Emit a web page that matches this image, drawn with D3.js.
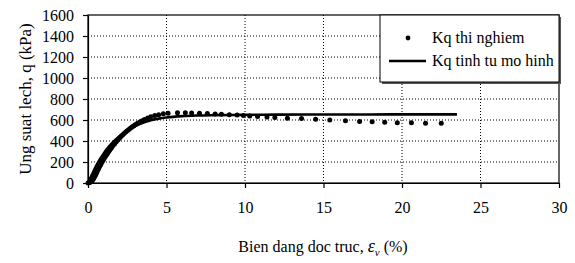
<!DOCTYPE html>
<html lang="vi">
<head>
    <meta charset="utf-8">
    <title>Ung suat lech - bien dang</title>
    <script type="text/javascript" src="https://d3js.org/d3.v7.min.js"></script>
    <style type="text/css">
        body{
            margin: 0px;
            background: #fff;
        }
        .axis path,
        .axis line {
            fill: none;
            stroke: #000;
            stroke-width: 1.2px;
        }
        .grid line {
            stroke: #000;
            stroke-width: 1px;
            stroke-dasharray: 1,2;
        }
    </style>
</head>
<body>
<div id="viz"></div>

<script type="text/javascript">
    // ket qua thi nghiem
    var testStrain = [0, 0.05, 0.1, 0.15, 0.2, 0.25, 0.3, 0.35, 0.4, 0.45, 0.5, 0.55, 0.6, 0.65, 0.7,
        0.75, 0.8, 0.85, 0.9, 0.95, 1.0, 1.05, 1.1, 1.15, 1.2, 1.25, 1.3, 1.35, 1.4, 1.45, 1.5, 1.6,
        1.7, 1.8, 1.9, 2.0, 2.1, 2.2, 2.3, 2.4, 2.5, 2.6, 2.7, 2.8, 2.9, 3.0, 3.15, 3.3, 3.45, 3.6,
        3.8, 4.0, 4.25, 4.5, 4.8, 5.1, 5.7, 6.2, 6.6, 7.1, 7.6, 8.1, 8.5, 9.0, 9.5, 9.9, 10.3, 10.8,
        11.4, 11.9, 12.7, 13.6, 14.5, 15.4, 16.4, 17.3, 18.1, 18.9, 19.7, 20.6, 21.5, 22.5];
    var testStress = [0, 2, 5, 9, 14, 21, 30, 41, 54, 68, 84, 100, 116, 131, 146,
        161, 175, 189, 202, 215, 228, 240, 252, 264, 275, 286, 297, 308, 318, 328, 338, 357,
        375, 393, 410, 426, 442, 457, 471, 485, 498, 510, 522, 533, 544, 554, 568, 581, 593, 604,
        618, 630, 642, 651, 660, 665, 668, 668, 666, 664, 662, 658, 655, 651, 647, 643, 639, 634,
        629, 624, 617, 614, 607, 600, 593, 585, 583, 578, 575, 573, 570, 568];

    // ket qua tinh tu mo hinh
    var modelStrain = [0, 0.25, 0.5, 0.75, 1, 1.25, 1.5, 1.75, 2, 2.5, 3, 3.5, 4, 4.5, 5, 6, 7, 8,
        10, 12, 15, 18, 21, 23.5];
    var modelStress = [0, 80, 158, 225, 282, 332, 375, 412, 445, 498, 540, 573, 597, 613, 624, 637,
        643, 646, 649, 651, 652, 653, 654, 654];

    var xTicks = [0, 5, 10, 15, 20, 25, 30];
    var yTicks = [0, 200, 400, 600, 800, 1000, 1200, 1400, 1600];
    var seriesNames = ["Kq thi nghiem", "Kq tinh tu mo hinh"];

    var serif = "'Liberation Serif', 'Times New Roman', Tinos, serif";

    var margin = {top: 15, right: 16, bottom: 80, left: 88};
    var width = 575 - margin.left - margin.right;
    var height = 263 - margin.top - margin.bottom;

    var x = d3.scaleLinear().domain([0, 30]).range([0, width]);
    var y = d3.scaleLinear().domain([0, 1600]).range([height, 0]);

    var svg = d3.select("#viz").append("svg")
        .attr("width", 575)
        .attr("height", 263)
        .style("font-family", serif);

    var dataviz = svg.append("g")
        .attr("transform", "translate(" + margin.left + "," + margin.top + ")");

    // luoi
    dataviz.append("g").attr("class", "grid")
        .selectAll("line")
        .data(yTicks.slice(1, -1))
        .enter().append("line")
        .attr("x1", 0).attr("x2", width)
        .attr("y1", function(d) { return y(d); })
        .attr("y2", function(d) { return y(d); });

    dataviz.append("g").attr("class", "grid")
        .selectAll("line")
        .data(xTicks.slice(1, -1))
        .enter().append("line")
        .attr("y1", 0).attr("y2", height)
        .attr("x1", function(d) { return x(d); })
        .attr("x2", function(d) { return x(d); });

    // khung
    dataviz.append("rect")
        .attr("width", width).attr("height", height)
        .attr("fill", "none").attr("stroke", "#000").attr("stroke-width", 1.2);

    dataviz.append("g").attr("class", "axis")
        .attr("transform", "translate(0," + height + ")")
        .call(d3.axisBottom(x).tickValues(xTicks).tickFormat(d3.format("d"))
            .tickSizeInner(5).tickSizeOuter(0).tickPadding(14));

    dataviz.append("g").attr("class", "axis")
        .call(d3.axisLeft(y).tickValues(yTicks).tickFormat(d3.format("d"))
            .tickSizeInner(5).tickSizeOuter(0).tickPadding(9));

    dataviz.selectAll(".axis").attr("font-family", null).attr("font-size", null);
    dataviz.selectAll(".axis text").style("font-size", "16px");

    // duong mo hinh
    var modelData = modelStrain.map(function(d, i) { return [d, modelStress[i]]; });
    dataviz.append("path")
        .datum(modelData)
        .attr("fill", "none")
        .attr("stroke", "#000")
        .attr("stroke-width", 2.6)
        .attr("d", d3.line()
            .x(function(d) { return x(d[0]); })
            .y(function(d) { return y(d[1]); })
            .curve(d3.curveMonotoneX));

    // diem thi nghiem
    dataviz.selectAll(".dot")
        .data(testStrain)
        .enter().append("circle")
        .attr("class", "dot")
        .attr("cx", function(d) { return x(d); })
        .attr("cy", function(d, i) { return y(testStress[i]); })
        .attr("r", 2.5)
        .attr("fill", "#000");

    // chu thich
    var legend = dataviz.append("g").attr("transform", "translate(" + (width - 179) + ",0)");
    legend.append("rect")
        .attr("x", 2).attr("y", 2).attr("width", 179).attr("height", 67)
        .attr("fill", "#555");
    legend.append("rect")
        .attr("width", 179).attr("height", 67)
        .attr("fill", "#fff").attr("stroke", "#000").attr("stroke-width", 1);
    legend.append("circle")
        .attr("cx", 28).attr("cy", 23).attr("r", 2.4).attr("fill", "#000");
    legend.append("line")
        .attr("x1", 9).attr("x2", 46).attr("y1", 46).attr("y2", 46)
        .attr("stroke", "#000").attr("stroke-width", 2.6);
    legend.selectAll(".ltext")
        .data(seriesNames)
        .enter().append("text")
        .attr("x", 52)
        .attr("y", function(d, i) { return 28 + i * 23; })
        .style("font-size", "16px")
        .text(function(d) { return d; });

    // ten truc
    svg.append("text")
        .attr("transform", "translate(31," + (margin.top + height / 2) + ") rotate(-90)")
        .attr("text-anchor", "middle")
        .style("font-size", "17px")
        .text("Ung suat lech, q (kPa)");

    var xt = svg.append("text")
        .attr("x", 323).attr("y", 252)
        .attr("text-anchor", "middle")
        .style("font-size", "16px");
    xt.append("tspan").text("Bien dang doc truc, ");
    xt.append("tspan").style("font-style", "italic").style("font-size", "18px").text("ε");
    xt.append("tspan").attr("dy", 4).style("font-style", "italic").style("font-size", "11px").text("v");
    xt.append("tspan").attr("dy", -4).text(" (%)");

    svg.selectAll("text").style("font-family", serif).style("fill", "#000");
</script>
</body>
</html>
